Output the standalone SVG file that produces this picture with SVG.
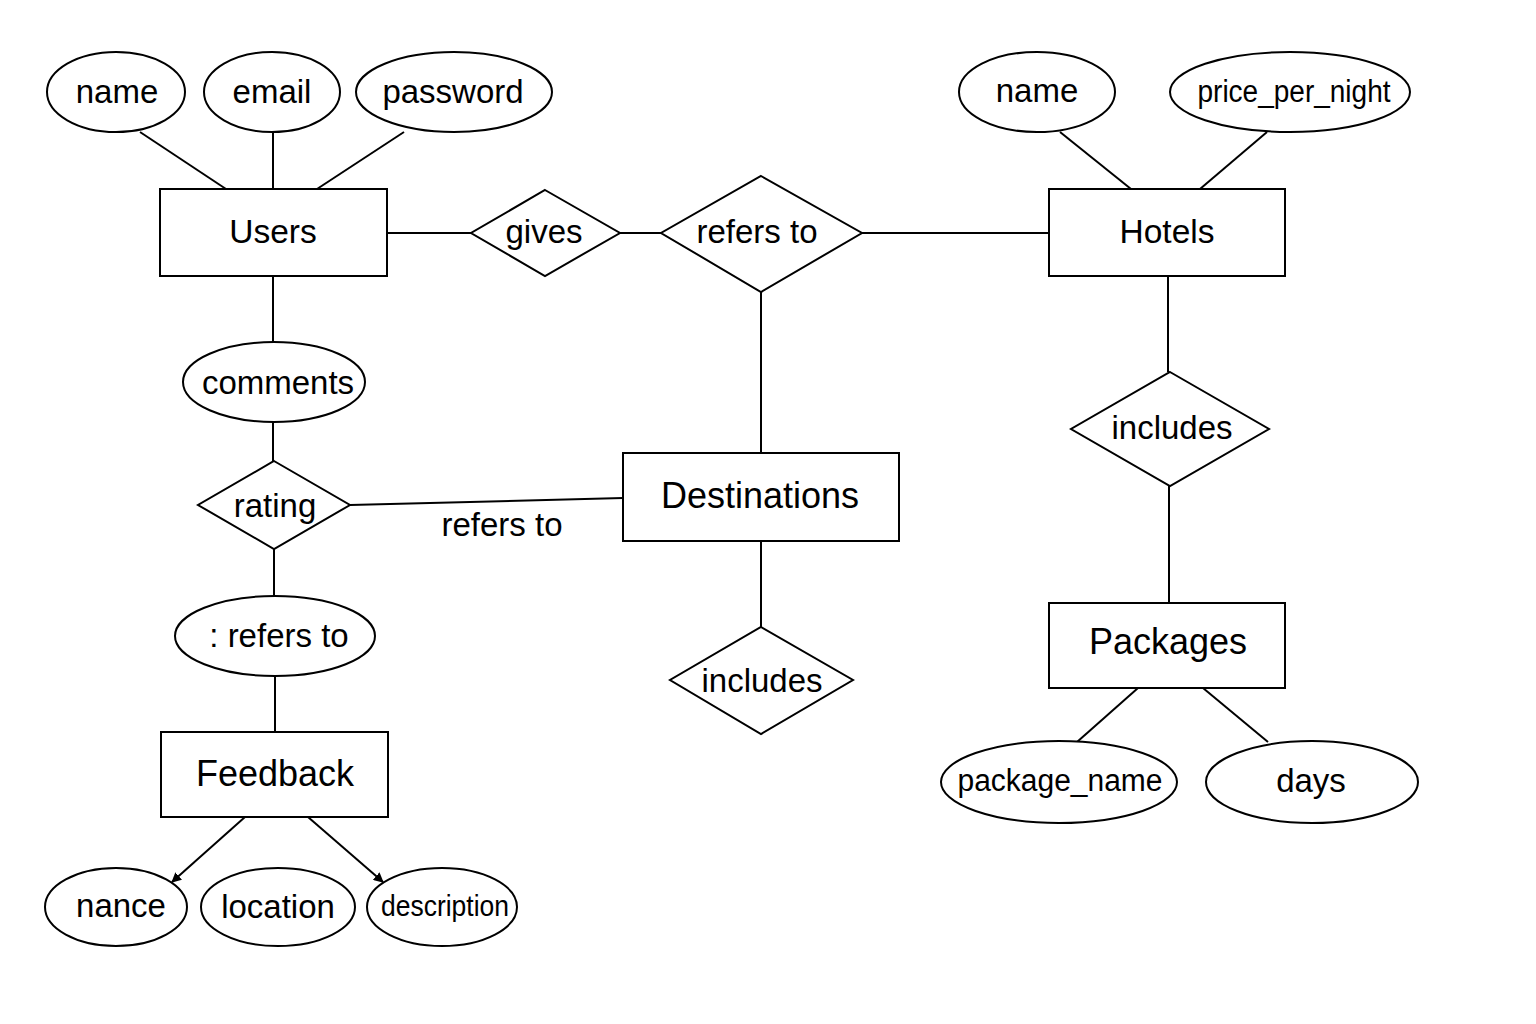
<svg xmlns="http://www.w3.org/2000/svg" width="1536" height="1024" viewBox="0 0 1536 1024">
<defs>
<style>
.s{fill:#fff;stroke:#000;stroke-width:2}
.l{stroke:#000;stroke-width:2;fill:none}
text{font-family:"Liberation Sans",Arial,sans-serif;fill:#000;text-anchor:middle;dominant-baseline:central}
.t{font-size:33.5px}
.b{font-size:36px}
.e{font-size:33px}
.c{font-size:31px}
.d{font-size:29px}
</style>
<marker id="arr" viewBox="0 0 10 10" refX="9" refY="5" markerWidth="10" markerHeight="10" markerUnits="userSpaceOnUse" orient="auto">
<path d="M0,0 L10,5 L0,10 z" fill="#000"/>
</marker>
</defs>
<rect width="1536" height="1024" fill="#fff"/>
<g id="connectors">
<line class="l" x1="140" y1="132" x2="226" y2="189"/>
<line class="l" x1="273" y1="132" x2="273" y2="189"/>
<line class="l" x1="404" y1="132" x2="317" y2="189"/>
<line class="l" x1="387" y1="233" x2="471" y2="233"/>
<line class="l" x1="620" y1="233" x2="661" y2="233"/>
<line class="l" x1="862" y1="233" x2="1049" y2="233"/>
<line class="l" x1="761" y1="292" x2="761" y2="453"/>
<line class="l" x1="1060" y1="132" x2="1131" y2="189"/>
<line class="l" x1="1267" y1="132" x2="1200" y2="189"/>
<line class="l" x1="1168" y1="276" x2="1168" y2="372"/>
<line class="l" x1="1169" y1="486" x2="1169" y2="603"/>
<line class="l" x1="1138" y1="688" x2="1077" y2="742"/>
<line class="l" x1="1203" y1="688" x2="1268" y2="742"/>
<line class="l" x1="273" y1="276" x2="273" y2="342"/>
<line class="l" x1="273" y1="422" x2="273" y2="461"/>
<line class="l" x1="350" y1="505" x2="623" y2="498"/>
<line class="l" x1="274" y1="549" x2="274" y2="596"/>
<line class="l" x1="275" y1="676" x2="275" y2="732"/>
<line class="l" x1="761" y1="541" x2="761" y2="627"/>
<line class="l" x1="245" y1="817" x2="172" y2="882" marker-end="url(#arr)"/>
<line class="l" x1="308" y1="817" x2="383" y2="882" marker-end="url(#arr)"/>
<text class="e" x="502" y="524">refers to</text>
</g>
<g id="attr-user-name"><ellipse class="s" cx="116" cy="92" rx="69" ry="40"/><text class="e" x="117" y="91">name</text></g>
<g id="attr-user-email"><ellipse class="s" cx="272" cy="92" rx="68" ry="40"/><text class="e" x="272" y="91">email</text></g>
<g id="attr-user-password"><ellipse class="s" cx="454" cy="92" rx="98" ry="40"/><text class="e" x="453" y="91">password</text></g>
<g id="attr-hotel-name"><ellipse class="s" cx="1037" cy="92" rx="78" ry="40"/><text class="e" x="1037" y="90">name</text></g>
<g id="attr-price"><ellipse class="s" cx="1290" cy="92" rx="120" ry="40"/><text class="c" x="1294" y="91" textLength="193" lengthAdjust="spacingAndGlyphs">price_per_night</text></g>
<g id="users"><rect class="s" x="160" y="189" width="227" height="87"/><text class="t" x="273" y="231">Users</text></g>
<g id="hotels"><rect class="s" x="1049" y="189" width="236" height="87"/><text class="t" x="1167" y="231">Hotels</text></g>
<g id="gives"><polygon class="s" points="545,190 620,233 545,276 471,233"/><text class="e" x="544" y="231">gives</text></g>
<g id="refers-to"><polygon class="s" points="761,176 862,233 761,292 661,233"/><text class="e" x="757" y="231">refers to</text></g>
<g id="comments"><ellipse class="s" cx="274" cy="382" rx="91" ry="40"/><text class="e" x="278" y="382">comments</text></g>
<g id="rating"><polygon class="s" points="274,461 350,505 274,549 198,505"/><text class="e" x="275" y="505">rating</text></g>
<g id="destinations"><rect class="s" x="623" y="453" width="276" height="88"/><text class="b" x="760" y="495">Destinations</text></g>
<g id="hotel-includes"><polygon class="s" points="1170,372 1269,429 1170,486 1071,429"/><text class="e" x="1172" y="427">includes</text></g>
<g id="packages"><rect class="s" x="1049" y="603" width="236" height="85"/><text class="b" x="1168" y="641">Packages</text></g>
<g id="refers-ellipse"><ellipse class="s" cx="275" cy="636" rx="100" ry="40"/><text class="e" x="279" y="635">: refers to</text></g>
<g id="dest-includes"><polygon class="s" points="761,627 853,680 761,734 670,680"/><text class="e" x="762" y="680">includes</text></g>
<g id="feedback"><rect class="s" x="161" y="732" width="227" height="85"/><text class="b" x="275" y="773">Feedback</text></g>
<g id="nance"><ellipse class="s" cx="116" cy="907" rx="71" ry="39"/><text class="e" x="121" y="905">nance</text></g>
<g id="location"><ellipse class="s" cx="278" cy="907" rx="77" ry="39"/><text class="e" x="278" y="906">location</text></g>
<g id="description"><ellipse class="s" cx="442" cy="907" rx="75" ry="39"/><text class="d" x="445" y="906" textLength="128" lengthAdjust="spacingAndGlyphs">description</text></g>
<g id="package-name"><ellipse class="s" cx="1059" cy="782" rx="118" ry="41"/><text class="c" x="1060" y="780" textLength="205" lengthAdjust="spacingAndGlyphs">package_name</text></g>
<g id="days"><ellipse class="s" cx="1312" cy="782" rx="106" ry="41"/><text class="e" x="1311" y="780">days</text></g>
</svg>
